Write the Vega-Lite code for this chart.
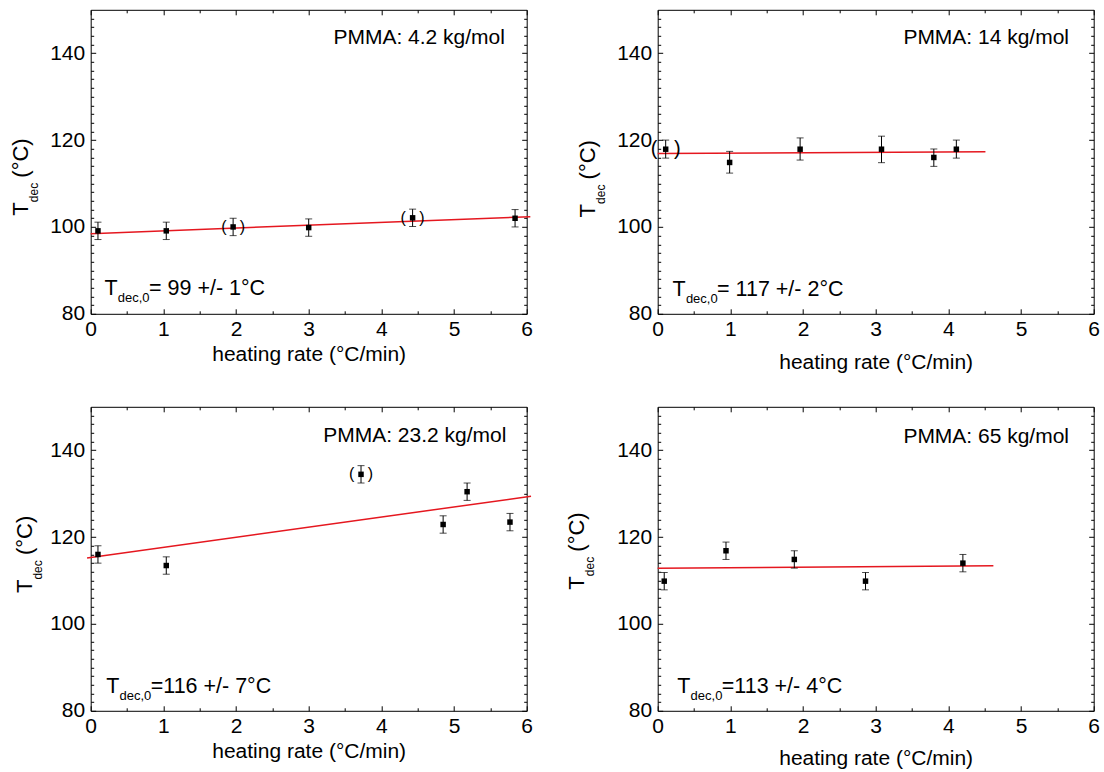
{
  "$schema": "https://vega.github.io/schema/vega-lite/v6.json",
  "background": "white",
  "padding": {"left": 9.7, "top": 8.8, "right": 5, "bottom": 5},
  "columns": 2,
  "spacing": {"row": 93, "column": 131},
  "bounds": "flush",
  "datasets": {
    "pts": [
      {"panel": "A", "rate": 0.10, "T": 99.1, "lo": 97.1, "hi": 101.1, "paren": false},
      {"panel": "A", "rate": 1.04, "T": 99.1, "lo": 97.1, "hi": 101.1, "paren": false},
      {"panel": "A", "rate": 1.96, "T": 100.0, "lo": 98.0, "hi": 102.0, "paren": true},
      {"panel": "A", "rate": 3.00, "T": 99.85, "lo": 97.85, "hi": 101.85, "paren": false},
      {"panel": "A", "rate": 4.43, "T": 102.1, "lo": 100.1, "hi": 104.1, "paren": true},
      {"panel": "A", "rate": 5.84, "T": 102.0, "lo": 100.0, "hi": 104.0, "paren": false},
      {"panel": "B", "rate": 0.11, "T": 117.9, "lo": 115.85, "hi": 120.0, "paren": true},
      {"panel": "B", "rate": 0.99, "T": 114.85, "lo": 112.4, "hi": 117.4, "paren": false},
      {"panel": "B", "rate": 1.96, "T": 117.9, "lo": 115.4, "hi": 120.5, "paren": false},
      {"panel": "B", "rate": 3.08, "T": 117.9, "lo": 114.8, "hi": 120.9, "paren": false},
      {"panel": "B", "rate": 3.80, "T": 116.0, "lo": 113.95, "hi": 117.95, "paren": false},
      {"panel": "B", "rate": 4.11, "T": 117.9, "lo": 115.85, "hi": 120.0, "paren": false},
      {"panel": "C", "rate": 0.10, "T": 116.0, "lo": 114.0, "hi": 118.0, "paren": false},
      {"panel": "C", "rate": 1.04, "T": 113.45, "lo": 111.45, "hi": 115.45, "paren": false},
      {"panel": "C", "rate": 3.72, "T": 134.45, "lo": 132.45, "hi": 136.45, "paren": true},
      {"panel": "C", "rate": 4.85, "T": 122.9, "lo": 120.9, "hi": 124.9, "paren": false},
      {"panel": "C", "rate": 5.18, "T": 130.45, "lo": 128.45, "hi": 132.45, "paren": false},
      {"panel": "C", "rate": 5.77, "T": 123.45, "lo": 121.45, "hi": 125.45, "paren": false},
      {"panel": "D", "rate": 0.09, "T": 109.85, "lo": 107.85, "hi": 111.85, "paren": false},
      {"panel": "D", "rate": 0.94, "T": 116.85, "lo": 114.85, "hi": 118.85, "paren": false},
      {"panel": "D", "rate": 1.88, "T": 114.85, "lo": 112.85, "hi": 116.85, "paren": false},
      {"panel": "D", "rate": 2.86, "T": 109.85, "lo": 107.85, "hi": 111.85, "paren": false},
      {"panel": "D", "rate": 4.20, "T": 114.0, "lo": 112.0, "hi": 116.0, "paren": false}
    ],
    "fit": [
      {"panel": "A", "rate": 0, "T": 98.46},
      {"panel": "A", "rate": 6.05, "T": 102.37},
      {"panel": "B", "rate": 0, "T": 116.92},
      {"panel": "B", "rate": 4.51, "T": 117.31},
      {"panel": "C", "rate": -0.05, "T": 115.2},
      {"panel": "C", "rate": 6.06, "T": 129.4},
      {"panel": "D", "rate": 0, "T": 112.85},
      {"panel": "D", "rate": 4.62, "T": 113.38}
    ],
    "notes": [
      {"panel": "A", "mw": "PMMA: 4.2 kg/mol", "t0": "= 99 +/- 1°C"},
      {"panel": "B", "mw": "PMMA: 14 kg/mol", "t0": "= 117 +/- 2°C"},
      {"panel": "C", "mw": "PMMA: 23.2 kg/mol", "t0": "=116 +/- 7°C"},
      {"panel": "D", "mw": "PMMA: 65 kg/mol", "t0": "=113 +/- 4°C"}
    ]
  },
  "concat": [
    {
      "width": 436, "height": 304,
      "resolve": {"axis": {"x": "independent", "y": "independent"}},
      "layer": [
        {"data": {"name": "fit"}, "transform": [{"filter": "datum.panel == 'A'"}],
         "mark": {"type": "line", "color": "#e5171f", "strokeWidth": 1.5, "clip": false},
         "encoding": {
           "x": {"field": "rate", "type": "quantitative", "scale": {"domain": [0, 6], "nice": false, "zero": false},
                 "axis": {"orient": "bottom", "values": [0, 1, 2, 3, 4, 5, 6], "title": "heating rate (°C/min)", "titlePadding": 4}},
           "y": {"field": "T", "type": "quantitative", "scale": {"domain": [80, 150], "nice": false, "zero": false},
                 "axis": {"orient": "left", "values": [80, 100, 120, 140], "title": null}}}},
        {"data": {"name": "pts"}, "transform": [{"filter": "datum.panel == 'A'"}],
         "mark": {"type": "rule", "color": "#000", "strokeWidth": 1},
         "encoding": {
           "x": {"field": "rate", "type": "quantitative", "axis": {"orient": "top", "values": [0, 1, 2, 3, 4, 5, 6], "labels": false, "title": null}},
           "y": {"field": "lo", "type": "quantitative", "axis": {"orient": "right", "values": [80, 100, 120, 140], "labels": false, "title": null}},
           "y2": {"field": "hi"}}},
        {"data": {"name": "pts"}, "transform": [{"filter": "datum.panel == 'A'"}],
         "mark": {"type": "tick", "orient": "horizontal", "size": 7, "thickness": 1, "color": "#000"},
         "encoding": {
           "x": {"field": "rate", "type": "quantitative", "axis": {"orient": "bottom", "values": [0.5, 1.5, 2.5, 3.5, 4.5, 5.5], "labels": false, "domain": false, "tickSize": -3, "title": null}},
           "y": {"field": "lo", "type": "quantitative", "axis": {"orient": "left", "values": [82, 84, 86, 88, 90, 92, 94, 96, 98, 102, 104, 106, 108, 110, 112, 114, 116, 118, 122, 124, 126, 128, 130, 132, 134, 136, 138, 142, 144, 146, 148], "labels": false, "domain": false, "tickSize": -3, "title": null}}}},
        {"data": {"name": "pts"}, "transform": [{"filter": "datum.panel == 'A'"}],
         "mark": {"type": "tick", "orient": "horizontal", "size": 7, "thickness": 1, "color": "#000"},
         "encoding": {
           "x": {"field": "rate", "type": "quantitative", "axis": {"orient": "top", "values": [0.5, 1.5, 2.5, 3.5, 4.5, 5.5], "labels": false, "domain": false, "tickSize": -3, "title": null}},
           "y": {"field": "hi", "type": "quantitative", "axis": {"orient": "right", "values": [82, 84, 86, 88, 90, 92, 94, 96, 98, 102, 104, 106, 108, 110, 112, 114, 116, 118, 122, 124, 126, 128, 130, 132, 134, 136, 138, 142, 144, 146, 148], "labels": false, "domain": false, "tickSize": -3, "title": null}}}},
        {"data": {"name": "pts"}, "transform": [{"filter": "datum.panel == 'A'"}],
         "mark": {"type": "square", "size": 30, "color": "#000", "opacity": 1},
         "encoding": {"x": {"field": "rate", "type": "quantitative", "axis": null}, "y": {"field": "T", "type": "quantitative", "axis": null}}},
        {"data": {"name": "pts"}, "transform": [{"filter": "datum.panel == 'A' && datum.paren"}],
         "mark": {"type": "text", "text": "(\u00a0\u00a0\u00a0)", "fontSize": 16, "align": "center", "baseline": "middle"},
         "encoding": {"x": {"field": "rate", "type": "quantitative", "axis": null}, "y": {"field": "T", "type": "quantitative", "axis": null}}},
        {"data": {"name": "notes"}, "transform": [{"filter": "datum.panel == 'A'"}],
         "mark": {"type": "text", "text": "T", "fontSize": 22, "angle": 270, "align": "left", "baseline": "alphabetic"},
         "encoding": {"x": {"datum": -0.864, "type": "quantitative", "axis": null}, "y": {"datum": 102.6, "type": "quantitative", "axis": null}}},
        {"data": {"name": "notes"}, "transform": [{"filter": "datum.panel == 'A'"}],
         "mark": {"type": "text", "text": "dec", "fontSize": 12, "angle": 270, "align": "left", "baseline": "alphabetic", "dx": 13.5, "dy": 10},
         "encoding": {"x": {"datum": -0.864, "type": "quantitative", "axis": null}, "y": {"datum": 102.6, "type": "quantitative", "axis": null}}},
        {"data": {"name": "notes"}, "transform": [{"filter": "datum.panel == 'A'"}],
         "mark": {"type": "text", "text": "(°C)", "fontSize": 22, "angle": 270, "align": "left", "baseline": "alphabetic", "dx": 38},
         "encoding": {"x": {"datum": -0.864, "type": "quantitative", "axis": null}, "y": {"datum": 102.6, "type": "quantitative", "axis": null}}},
        {"data": {"name": "notes"}, "transform": [{"filter": "datum.panel == 'A'"}],
         "mark": {"type": "text", "text": "T", "fontSize": 21.5, "align": "left", "baseline": "alphabetic"},
         "encoding": {"x": {"datum": 0.19, "type": "quantitative", "axis": null}, "y": {"datum": 84.3, "type": "quantitative", "axis": null}}},
        {"data": {"name": "notes"}, "transform": [{"filter": "datum.panel == 'A'"}],
         "mark": {"type": "text", "text": "dec,0", "fontSize": 13, "align": "left", "baseline": "alphabetic", "dx": 13.3, "dy": 7},
         "encoding": {"x": {"datum": 0.19, "type": "quantitative", "axis": null}, "y": {"datum": 84.3, "type": "quantitative", "axis": null}}},
        {"data": {"name": "notes"}, "transform": [{"filter": "datum.panel == 'A'"}],
         "mark": {"type": "text", "fontSize": 21.5, "align": "left", "baseline": "alphabetic", "dx": 44.5},
         "encoding": {"x": {"datum": 0.19, "type": "quantitative", "axis": null}, "y": {"datum": 84.3, "type": "quantitative", "axis": null}, "text": {"field": "t0"}}},
        {"data": {"name": "notes"}, "transform": [{"filter": "datum.panel == 'A'"}],
         "mark": {"type": "text", "fontSize": 21, "align": "right", "baseline": "alphabetic"},
         "encoding": {"x": {"datum": 5.70, "type": "quantitative", "axis": null}, "y": {"datum": 142.1, "type": "quantitative", "axis": null}, "text": {"field": "mw"}}}
      ]
    },
    {
      "width": 436, "height": 304,
      "resolve": {"axis": {"x": "independent", "y": "independent"}},
      "layer": [
        {"data": {"name": "fit"}, "transform": [{"filter": "datum.panel == 'B'"}],
         "mark": {"type": "line", "color": "#e5171f", "strokeWidth": 1.5, "clip": false},
         "encoding": {
           "x": {"field": "rate", "type": "quantitative", "scale": {"domain": [0, 6], "nice": false, "zero": false},
                 "axis": {"orient": "bottom", "values": [0, 1, 2, 3, 4, 5, 6], "title": "heating rate (°C/min)", "titlePadding": 12}},
           "y": {"field": "T", "type": "quantitative", "scale": {"domain": [80, 150], "nice": false, "zero": false},
                 "axis": {"orient": "left", "values": [80, 100, 120, 140], "title": null}}}},
        {"data": {"name": "pts"}, "transform": [{"filter": "datum.panel == 'B'"}],
         "mark": {"type": "rule", "color": "#000", "strokeWidth": 1},
         "encoding": {
           "x": {"field": "rate", "type": "quantitative", "axis": {"orient": "top", "values": [0, 1, 2, 3, 4, 5, 6], "labels": false, "title": null}},
           "y": {"field": "lo", "type": "quantitative", "axis": {"orient": "right", "values": [80, 100, 120, 140], "labels": false, "title": null}},
           "y2": {"field": "hi"}}},
        {"data": {"name": "pts"}, "transform": [{"filter": "datum.panel == 'B'"}],
         "mark": {"type": "tick", "orient": "horizontal", "size": 7, "thickness": 1, "color": "#000"},
         "encoding": {
           "x": {"field": "rate", "type": "quantitative", "axis": {"orient": "bottom", "values": [0.5, 1.5, 2.5, 3.5, 4.5, 5.5], "labels": false, "domain": false, "tickSize": -3, "title": null}},
           "y": {"field": "lo", "type": "quantitative", "axis": {"orient": "left", "values": [82, 84, 86, 88, 90, 92, 94, 96, 98, 102, 104, 106, 108, 110, 112, 114, 116, 118, 122, 124, 126, 128, 130, 132, 134, 136, 138, 142, 144, 146, 148], "labels": false, "domain": false, "tickSize": -3, "title": null}}}},
        {"data": {"name": "pts"}, "transform": [{"filter": "datum.panel == 'B'"}],
         "mark": {"type": "tick", "orient": "horizontal", "size": 7, "thickness": 1, "color": "#000"},
         "encoding": {
           "x": {"field": "rate", "type": "quantitative", "axis": {"orient": "top", "values": [0.5, 1.5, 2.5, 3.5, 4.5, 5.5], "labels": false, "domain": false, "tickSize": -3, "title": null}},
           "y": {"field": "hi", "type": "quantitative", "axis": {"orient": "right", "values": [82, 84, 86, 88, 90, 92, 94, 96, 98, 102, 104, 106, 108, 110, 112, 114, 116, 118, 122, 124, 126, 128, 130, 132, 134, 136, 138, 142, 144, 146, 148], "labels": false, "domain": false, "tickSize": -3, "title": null}}}},
        {"data": {"name": "pts"}, "transform": [{"filter": "datum.panel == 'B'"}],
         "mark": {"type": "square", "size": 30, "color": "#000", "opacity": 1},
         "encoding": {"x": {"field": "rate", "type": "quantitative", "axis": null}, "y": {"field": "T", "type": "quantitative", "axis": null}}},
        {"data": {"name": "pts"}, "transform": [{"filter": "datum.panel == 'B' && datum.paren"}],
         "mark": {"type": "text", "text": "(\u00a0\u00a0\u00a0)", "fontSize": 20, "align": "center", "baseline": "middle"},
         "encoding": {"x": {"field": "rate", "type": "quantitative", "axis": null}, "y": {"field": "T", "type": "quantitative", "axis": null}}},
        {"data": {"name": "notes"}, "transform": [{"filter": "datum.panel == 'B'"}],
         "mark": {"type": "text", "text": "T", "fontSize": 22, "angle": 270, "align": "left", "baseline": "alphabetic"},
         "encoding": {"x": {"datum": -0.86, "type": "quantitative", "axis": null}, "y": {"datum": 102.2, "type": "quantitative", "axis": null}}},
        {"data": {"name": "notes"}, "transform": [{"filter": "datum.panel == 'B'"}],
         "mark": {"type": "text", "text": "dec", "fontSize": 12, "angle": 270, "align": "left", "baseline": "alphabetic", "dx": 13.5, "dy": 10},
         "encoding": {"x": {"datum": -0.86, "type": "quantitative", "axis": null}, "y": {"datum": 102.2, "type": "quantitative", "axis": null}}},
        {"data": {"name": "notes"}, "transform": [{"filter": "datum.panel == 'B'"}],
         "mark": {"type": "text", "text": "(°C)", "fontSize": 22, "angle": 270, "align": "left", "baseline": "alphabetic", "dx": 38},
         "encoding": {"x": {"datum": -0.86, "type": "quantitative", "axis": null}, "y": {"datum": 102.2, "type": "quantitative", "axis": null}}},
        {"data": {"name": "notes"}, "transform": [{"filter": "datum.panel == 'B'"}],
         "mark": {"type": "text", "text": "T", "fontSize": 21.5, "align": "left", "baseline": "alphabetic"},
         "encoding": {"x": {"datum": 0.205, "type": "quantitative", "axis": null}, "y": {"datum": 84.1, "type": "quantitative", "axis": null}}},
        {"data": {"name": "notes"}, "transform": [{"filter": "datum.panel == 'B'"}],
         "mark": {"type": "text", "text": "dec,0", "fontSize": 13, "align": "left", "baseline": "alphabetic", "dx": 13.3, "dy": 7},
         "encoding": {"x": {"datum": 0.205, "type": "quantitative", "axis": null}, "y": {"datum": 84.1, "type": "quantitative", "axis": null}}},
        {"data": {"name": "notes"}, "transform": [{"filter": "datum.panel == 'B'"}],
         "mark": {"type": "text", "fontSize": 21.5, "align": "left", "baseline": "alphabetic", "dx": 44.5},
         "encoding": {"x": {"datum": 0.205, "type": "quantitative", "axis": null}, "y": {"datum": 84.1, "type": "quantitative", "axis": null}, "text": {"field": "t0"}}},
        {"data": {"name": "notes"}, "transform": [{"filter": "datum.panel == 'B'"}],
         "mark": {"type": "text", "fontSize": 21, "align": "right", "baseline": "alphabetic"},
         "encoding": {"x": {"datum": 5.66, "type": "quantitative", "axis": null}, "y": {"datum": 142.1, "type": "quantitative", "axis": null}, "text": {"field": "mw"}}}
      ]
    },
    {
      "width": 436, "height": 304,
      "resolve": {"axis": {"x": "independent", "y": "independent"}},
      "layer": [
        {"data": {"name": "fit"}, "transform": [{"filter": "datum.panel == 'C'"}],
         "mark": {"type": "line", "color": "#e5171f", "strokeWidth": 1.5, "clip": false},
         "encoding": {
           "x": {"field": "rate", "type": "quantitative", "scale": {"domain": [0, 6], "nice": false, "zero": false},
                 "axis": {"orient": "bottom", "values": [0, 1, 2, 3, 4, 5, 6], "title": "heating rate (°C/min)", "titlePadding": 4}},
           "y": {"field": "T", "type": "quantitative", "scale": {"domain": [80, 150], "nice": false, "zero": false},
                 "axis": {"orient": "left", "values": [80, 100, 120, 140], "title": null}}}},
        {"data": {"name": "pts"}, "transform": [{"filter": "datum.panel == 'C'"}],
         "mark": {"type": "rule", "color": "#000", "strokeWidth": 1},
         "encoding": {
           "x": {"field": "rate", "type": "quantitative", "axis": {"orient": "top", "values": [0, 1, 2, 3, 4, 5, 6], "labels": false, "title": null}},
           "y": {"field": "lo", "type": "quantitative", "axis": {"orient": "right", "values": [80, 100, 120, 140], "labels": false, "title": null}},
           "y2": {"field": "hi"}}},
        {"data": {"name": "pts"}, "transform": [{"filter": "datum.panel == 'C'"}],
         "mark": {"type": "tick", "orient": "horizontal", "size": 7, "thickness": 1, "color": "#000"},
         "encoding": {
           "x": {"field": "rate", "type": "quantitative", "axis": {"orient": "bottom", "values": [0.5, 1.5, 2.5, 3.5, 4.5, 5.5], "labels": false, "domain": false, "tickSize": -3, "title": null}},
           "y": {"field": "lo", "type": "quantitative", "axis": {"orient": "left", "values": [82, 84, 86, 88, 90, 92, 94, 96, 98, 102, 104, 106, 108, 110, 112, 114, 116, 118, 122, 124, 126, 128, 130, 132, 134, 136, 138, 142, 144, 146, 148], "labels": false, "domain": false, "tickSize": -3, "title": null}}}},
        {"data": {"name": "pts"}, "transform": [{"filter": "datum.panel == 'C'"}],
         "mark": {"type": "tick", "orient": "horizontal", "size": 7, "thickness": 1, "color": "#000"},
         "encoding": {
           "x": {"field": "rate", "type": "quantitative", "axis": {"orient": "top", "values": [0.5, 1.5, 2.5, 3.5, 4.5, 5.5], "labels": false, "domain": false, "tickSize": -3, "title": null}},
           "y": {"field": "hi", "type": "quantitative", "axis": {"orient": "right", "values": [82, 84, 86, 88, 90, 92, 94, 96, 98, 102, 104, 106, 108, 110, 112, 114, 116, 118, 122, 124, 126, 128, 130, 132, 134, 136, 138, 142, 144, 146, 148], "labels": false, "domain": false, "tickSize": -3, "title": null}}}},
        {"data": {"name": "pts"}, "transform": [{"filter": "datum.panel == 'C'"}],
         "mark": {"type": "square", "size": 30, "color": "#000", "opacity": 1},
         "encoding": {"x": {"field": "rate", "type": "quantitative", "axis": null}, "y": {"field": "T", "type": "quantitative", "axis": null}}},
        {"data": {"name": "pts"}, "transform": [{"filter": "datum.panel == 'C' && datum.paren"}],
         "mark": {"type": "text", "text": "(\u00a0\u00a0\u00a0)", "fontSize": 16, "align": "center", "baseline": "middle"},
         "encoding": {"x": {"field": "rate", "type": "quantitative", "axis": null}, "y": {"field": "T", "type": "quantitative", "axis": null}}},
        {"data": {"name": "notes"}, "transform": [{"filter": "datum.panel == 'C'"}],
         "mark": {"type": "text", "text": "T", "fontSize": 22, "angle": 270, "align": "left", "baseline": "alphabetic"},
         "encoding": {"x": {"datum": -0.805, "type": "quantitative", "axis": null}, "y": {"datum": 107.1, "type": "quantitative", "axis": null}}},
        {"data": {"name": "notes"}, "transform": [{"filter": "datum.panel == 'C'"}],
         "mark": {"type": "text", "text": "dec", "fontSize": 12, "angle": 270, "align": "left", "baseline": "alphabetic", "dx": 13.5, "dy": 10},
         "encoding": {"x": {"datum": -0.805, "type": "quantitative", "axis": null}, "y": {"datum": 107.1, "type": "quantitative", "axis": null}}},
        {"data": {"name": "notes"}, "transform": [{"filter": "datum.panel == 'C'"}],
         "mark": {"type": "text", "text": "(°C)", "fontSize": 22, "angle": 270, "align": "left", "baseline": "alphabetic", "dx": 38},
         "encoding": {"x": {"datum": -0.805, "type": "quantitative", "axis": null}, "y": {"datum": 107.1, "type": "quantitative", "axis": null}}},
        {"data": {"name": "notes"}, "transform": [{"filter": "datum.panel == 'C'"}],
         "mark": {"type": "text", "text": "T", "fontSize": 21.5, "align": "left", "baseline": "alphabetic"},
         "encoding": {"x": {"datum": 0.214, "type": "quantitative", "axis": null}, "y": {"datum": 84.05, "type": "quantitative", "axis": null}}},
        {"data": {"name": "notes"}, "transform": [{"filter": "datum.panel == 'C'"}],
         "mark": {"type": "text", "text": "dec,0", "fontSize": 13, "align": "left", "baseline": "alphabetic", "dx": 13.3, "dy": 7},
         "encoding": {"x": {"datum": 0.214, "type": "quantitative", "axis": null}, "y": {"datum": 84.05, "type": "quantitative", "axis": null}}},
        {"data": {"name": "notes"}, "transform": [{"filter": "datum.panel == 'C'"}],
         "mark": {"type": "text", "fontSize": 21.5, "align": "left", "baseline": "alphabetic", "dx": 44.5},
         "encoding": {"x": {"datum": 0.214, "type": "quantitative", "axis": null}, "y": {"datum": 84.05, "type": "quantitative", "axis": null}, "text": {"field": "t0"}}},
        {"data": {"name": "notes"}, "transform": [{"filter": "datum.panel == 'C'"}],
         "mark": {"type": "text", "fontSize": 21, "align": "right", "baseline": "alphabetic"},
         "encoding": {"x": {"datum": 5.72, "type": "quantitative", "axis": null}, "y": {"datum": 142.0, "type": "quantitative", "axis": null}, "text": {"field": "mw"}}}
      ]
    },
    {
      "width": 436, "height": 304,
      "resolve": {"axis": {"x": "independent", "y": "independent"}},
      "layer": [
        {"data": {"name": "fit"}, "transform": [{"filter": "datum.panel == 'D'"}],
         "mark": {"type": "line", "color": "#e5171f", "strokeWidth": 1.5, "clip": false},
         "encoding": {
           "x": {"field": "rate", "type": "quantitative", "scale": {"domain": [0, 6], "nice": false, "zero": false},
                 "axis": {"orient": "bottom", "values": [0, 1, 2, 3, 4, 5, 6], "title": "heating rate (°C/min)", "titlePadding": 11}},
           "y": {"field": "T", "type": "quantitative", "scale": {"domain": [80, 150], "nice": false, "zero": false},
                 "axis": {"orient": "left", "values": [80, 100, 120, 140], "title": null}}}},
        {"data": {"name": "pts"}, "transform": [{"filter": "datum.panel == 'D'"}],
         "mark": {"type": "rule", "color": "#000", "strokeWidth": 1},
         "encoding": {
           "x": {"field": "rate", "type": "quantitative", "axis": {"orient": "top", "values": [0, 1, 2, 3, 4, 5, 6], "labels": false, "title": null}},
           "y": {"field": "lo", "type": "quantitative", "axis": {"orient": "right", "values": [80, 100, 120, 140], "labels": false, "title": null}},
           "y2": {"field": "hi"}}},
        {"data": {"name": "pts"}, "transform": [{"filter": "datum.panel == 'D'"}],
         "mark": {"type": "tick", "orient": "horizontal", "size": 7, "thickness": 1, "color": "#000"},
         "encoding": {
           "x": {"field": "rate", "type": "quantitative", "axis": {"orient": "bottom", "values": [0.5, 1.5, 2.5, 3.5, 4.5, 5.5], "labels": false, "domain": false, "tickSize": -3, "title": null}},
           "y": {"field": "lo", "type": "quantitative", "axis": {"orient": "left", "values": [82, 84, 86, 88, 90, 92, 94, 96, 98, 102, 104, 106, 108, 110, 112, 114, 116, 118, 122, 124, 126, 128, 130, 132, 134, 136, 138, 142, 144, 146, 148], "labels": false, "domain": false, "tickSize": -3, "title": null}}}},
        {"data": {"name": "pts"}, "transform": [{"filter": "datum.panel == 'D'"}],
         "mark": {"type": "tick", "orient": "horizontal", "size": 7, "thickness": 1, "color": "#000"},
         "encoding": {
           "x": {"field": "rate", "type": "quantitative", "axis": {"orient": "top", "values": [0.5, 1.5, 2.5, 3.5, 4.5, 5.5], "labels": false, "domain": false, "tickSize": -3, "title": null}},
           "y": {"field": "hi", "type": "quantitative", "axis": {"orient": "right", "values": [82, 84, 86, 88, 90, 92, 94, 96, 98, 102, 104, 106, 108, 110, 112, 114, 116, 118, 122, 124, 126, 128, 130, 132, 134, 136, 138, 142, 144, 146, 148], "labels": false, "domain": false, "tickSize": -3, "title": null}}}},
        {"data": {"name": "pts"}, "transform": [{"filter": "datum.panel == 'D'"}],
         "mark": {"type": "square", "size": 30, "color": "#000", "opacity": 1},
         "encoding": {"x": {"field": "rate", "type": "quantitative", "axis": null}, "y": {"field": "T", "type": "quantitative", "axis": null}}},
        {"data": {"name": "notes"}, "transform": [{"filter": "datum.panel == 'D'"}],
         "mark": {"type": "text", "text": "T", "fontSize": 22, "angle": 270, "align": "left", "baseline": "alphabetic"},
         "encoding": {"x": {"datum": -1.014, "type": "quantitative", "axis": null}, "y": {"datum": 107.9, "type": "quantitative", "axis": null}}},
        {"data": {"name": "notes"}, "transform": [{"filter": "datum.panel == 'D'"}],
         "mark": {"type": "text", "text": "dec", "fontSize": 12, "angle": 270, "align": "left", "baseline": "alphabetic", "dx": 13.5, "dy": 10},
         "encoding": {"x": {"datum": -1.014, "type": "quantitative", "axis": null}, "y": {"datum": 107.9, "type": "quantitative", "axis": null}}},
        {"data": {"name": "notes"}, "transform": [{"filter": "datum.panel == 'D'"}],
         "mark": {"type": "text", "text": "(°C)", "fontSize": 22, "angle": 270, "align": "left", "baseline": "alphabetic", "dx": 38},
         "encoding": {"x": {"datum": -1.014, "type": "quantitative", "axis": null}, "y": {"datum": 107.9, "type": "quantitative", "axis": null}}},
        {"data": {"name": "notes"}, "transform": [{"filter": "datum.panel == 'D'"}],
         "mark": {"type": "text", "text": "T", "fontSize": 21.5, "align": "left", "baseline": "alphabetic"},
         "encoding": {"x": {"datum": 0.27, "type": "quantitative", "axis": null}, "y": {"datum": 84.05, "type": "quantitative", "axis": null}}},
        {"data": {"name": "notes"}, "transform": [{"filter": "datum.panel == 'D'"}],
         "mark": {"type": "text", "text": "dec,0", "fontSize": 13, "align": "left", "baseline": "alphabetic", "dx": 13.3, "dy": 7},
         "encoding": {"x": {"datum": 0.27, "type": "quantitative", "axis": null}, "y": {"datum": 84.05, "type": "quantitative", "axis": null}}},
        {"data": {"name": "notes"}, "transform": [{"filter": "datum.panel == 'D'"}],
         "mark": {"type": "text", "fontSize": 21.5, "align": "left", "baseline": "alphabetic", "dx": 44.5},
         "encoding": {"x": {"datum": 0.27, "type": "quantitative", "axis": null}, "y": {"datum": 84.05, "type": "quantitative", "axis": null}, "text": {"field": "t0"}}},
        {"data": {"name": "notes"}, "transform": [{"filter": "datum.panel == 'D'"}],
         "mark": {"type": "text", "fontSize": 21, "align": "right", "baseline": "alphabetic"},
         "encoding": {"x": {"datum": 5.66, "type": "quantitative", "axis": null}, "y": {"datum": 141.6, "type": "quantitative", "axis": null}, "text": {"field": "mw"}}}
      ]
    }
  ],
  "config": {
    "font": "Liberation Sans",
    "view": {"stroke": null},
    "text": {"font": "Liberation Sans", "color": "#000"},
    "axis": {
      "grid": false,
      "domainColor": "#000", "domainWidth": 1,
      "tickColor": "#000", "tickWidth": 1, "tickSize": -5,
      "labelFont": "Liberation Sans", "labelFontSize": 21, "labelColor": "#000",
      "labelFlush": false, "labelOverlap": false, "labelBound": false,
      "titleFont": "Liberation Sans", "titleFontSize": 21, "titleFontWeight": "normal", "titleColor": "#000"
    },
    "axisX": {"labelPadding": 10},
    "axisY": {"labelPadding": 11}
  }
}
